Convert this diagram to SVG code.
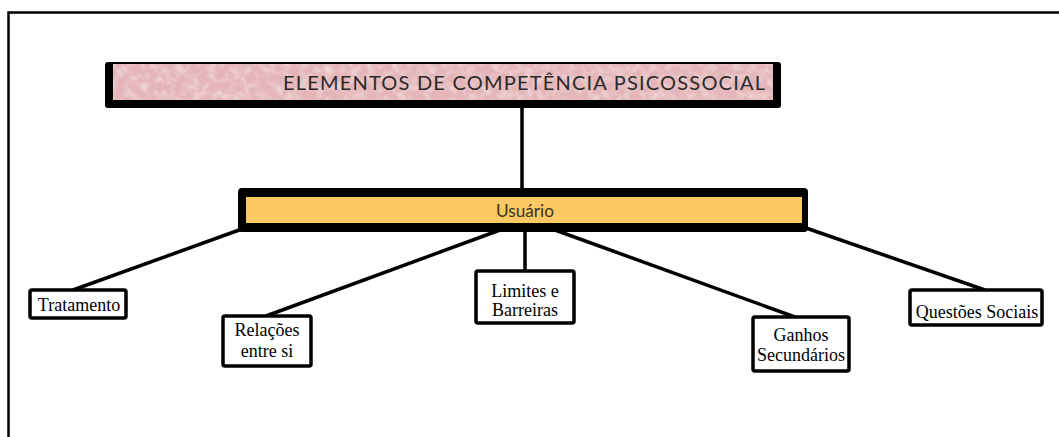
<svg xmlns="http://www.w3.org/2000/svg" width="1059" height="437" viewBox="0 0 1059 437">
  <defs>
    <filter id="tex" x="0" y="0" width="1" height="1">
      <feTurbulence type="fractalNoise" baseFrequency="0.12" numOctaves="3" seed="7" result="n"/>
      <feColorMatrix in="n" type="matrix" values="0 0 0 0 1  0 0 0 0 1  0 0 0 0 1  1.0 0 0 0 -0.42"/>
      <feComposite in2="SourceGraphic" operator="in"/>
    </filter>
    <style>
      .frame { stroke: #000; stroke-width: 2.5; fill: none; }
      .conn { stroke: #000; stroke-width: 3.5; fill: none; stroke-linecap: butt; }
      .shadow { fill: #000; }
      .leaf { fill: #fff; stroke: #000; stroke-width: 3.5; }
      .title { font-family: Lato, "Open Sans", "Liberation Sans", sans-serif; font-size: 20px; fill: #2a2a2a; }
      .sub { font-family: Lato, "Open Sans", "Liberation Sans", sans-serif; font-size: 16.5px; fill: #3a3328; }
      .lbl { font-family: "Liberation Serif", "Times New Roman", serif; font-size: 18px; fill: #000; text-anchor: middle; }
    </style>
  </defs>
  <rect width="1059" height="437" fill="#fff"/>
  <path class="frame" d="M8.5,437 V12.5 H1059"/>

  <g id="connectors">
    <line class="conn" x1="522" y1="106" x2="522" y2="190"/>
    <line class="conn" x1="242" y1="229" x2="73" y2="290"/>
    <line class="conn" x1="500" y1="230" x2="266" y2="316"/>
    <line class="conn" x1="525" y1="231" x2="525" y2="271"/>
    <line class="conn" x1="555" y1="230" x2="795" y2="317"/>
    <line class="conn" x1="806" y1="228" x2="985" y2="290"/>
  </g>

  <g id="node-title">
    <rect class="shadow" x="105" y="62" width="676" height="46" rx="3"/>
    <rect x="113" y="64" width="660" height="36" fill="#E4B6B9"/>
    <rect x="113" y="64" width="660" height="36" fill="#fff" filter="url(#tex)"/>
    <text class="title" x="283" y="90" textLength="482" lengthAdjust="spacing">ELEMENTOS DE COMPETÊNCIA PSICOSSOCIAL</text>
  </g>

  <g id="node-usuario">
    <rect class="shadow" x="238" y="188" width="570" height="44" rx="4"/>
    <rect x="246" y="197" width="556" height="26" fill="#FDC964"/>
    <text class="sub" x="496" y="217" textLength="58" lengthAdjust="spacingAndGlyphs">Usuário</text>
  </g>

  <g id="node-tratamento">
    <rect class="leaf" x="30" y="290" width="96" height="28" rx="2"/>
    <text class="lbl" x="79" y="311">Tratamento</text>
  </g>

  <g id="node-relacoes">
    <rect class="leaf" x="223" y="316" width="88" height="50" rx="2"/>
    <text class="lbl" x="267" y="336">Relações</text>
    <text class="lbl" x="267" y="357">entre si</text>
  </g>

  <g id="node-limites">
    <rect class="leaf" x="476" y="271" width="98" height="52" rx="2"/>
    <text class="lbl" x="525" y="297">Limites e</text>
    <text class="lbl" x="525" y="316">Barreiras</text>
  </g>

  <g id="node-ganhos">
    <rect class="leaf" x="753" y="317" width="96" height="54" rx="2"/>
    <text class="lbl" x="801" y="341">Ganhos</text>
    <text class="lbl" x="801" y="361">Secundários</text>
  </g>

  <g id="node-questoes">
    <rect class="leaf" x="910" y="290" width="132" height="35" rx="2"/>
    <text class="lbl" x="977" y="318">Questões Sociais</text>
  </g>
</svg>
